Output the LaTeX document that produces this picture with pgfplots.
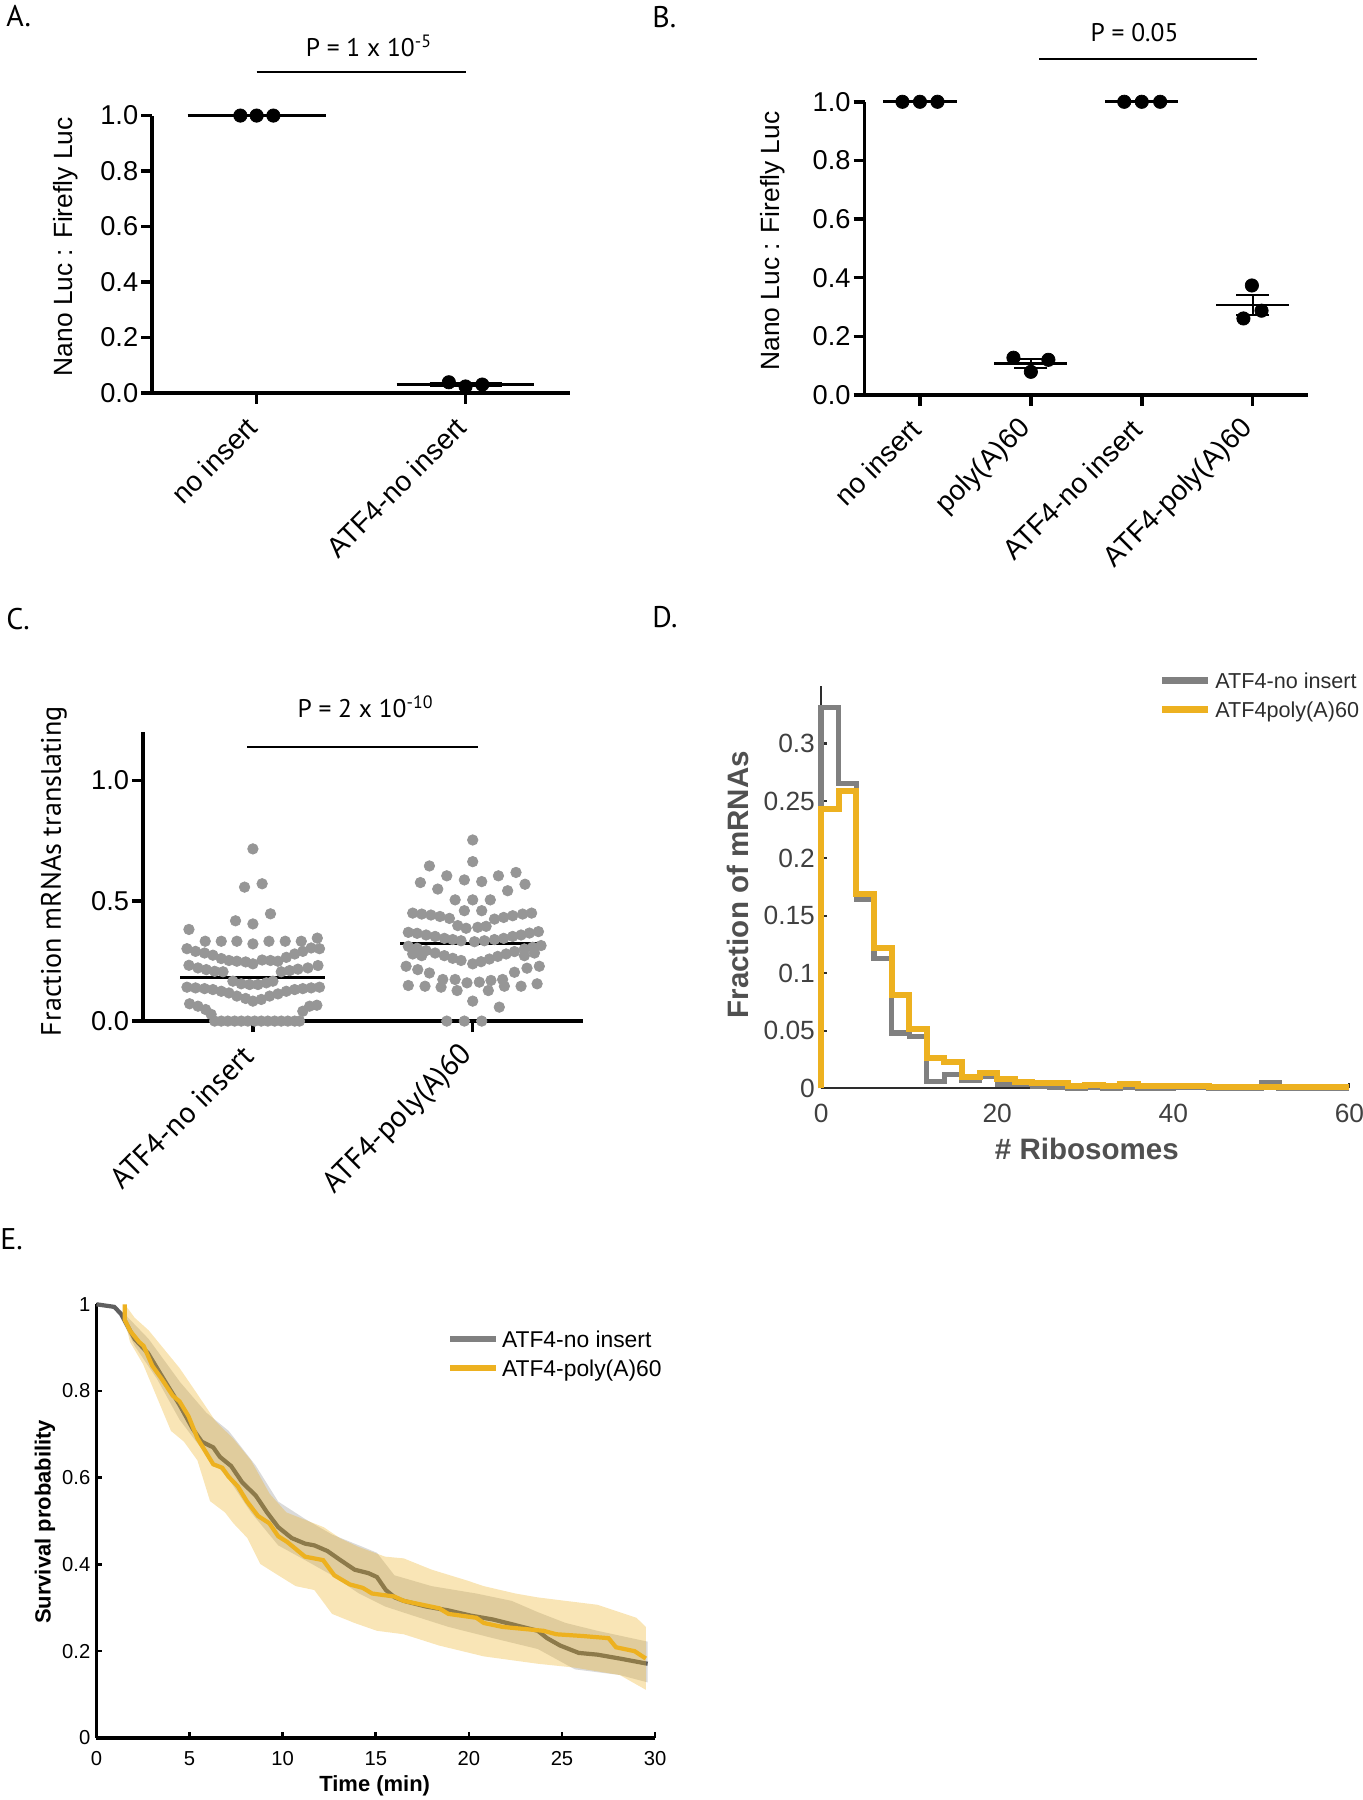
\documentclass[border=0pt]{standalone}
\usepackage{fontspec}
\setmainfont{Liberation Sans}
\newfontfamily\pt{PT Sans}
\usepackage{pgfplots}
\pgfplotsset{compat=1.18}

\definecolor{myyellow}{RGB}{237,177,32}
\definecolor{dotgray}{RGB}{150,150,150}
\definecolor{histgray}{RGB}{128,128,128}
\definecolor{axdark}{RGB}{45,45,45}
\definecolor{mgray}{RGB}{64,64,64}
\definecolor{lgray}{RGB}{80,80,80}
\definecolor{egray}{RGB}{95,95,95}
\definecolor{bandgray}{RGB}{150,150,150}

\pgfplotsset{
  prism/.style={
    scale only axis, anchor=south west, clip=false,
    axis x line*=bottom, axis y line*=left,
    axis line style={line width=2pt, black},
    tick style={line width=2pt, black},
    tick align=outside, major tick length=0.22cm,
    tick label style={font=\fontsize{15.5}{18}\selectfont},
    yticklabel style={inner sep=1.5pt},
    xticklabel style={yshift=-0.28cm, rotate=45, anchor=east, font=\fontsize{16}{19}\selectfont},
    label style={font=\fontsize{15}{18}\selectfont},
  },
  meanline/.style={black, line width=1.5pt, mark=none, forget plot},
}
\tikzset{pval/.style={font=\pt\fontsize{14.5}{17}\selectfont, anchor=base}}

\begin{document}
\begin{tikzpicture}
\path[use as bounding box] (0,0) rectangle (27.26,36);

% ---------- A ----------
\begin{axis}[prism, at={(3.044cm,28.14cm)}, width=8.356cm, height=5.548cm,
  xmin=0.5, xmax=2.5, ymin=0, ymax=1,
  xtick={1,2}, xticklabels={no insert, ATF4-no insert},
  ytick={0,0.2,0.4,0.6,0.8,1}, yticklabels={0.0,0.2,0.4,0.6,0.8,1.0},
  ylabel={Nano Luc : Firefly Luc},
  ylabel style={at={(axis description cs:-0.207,0.527)}, anchor=center}]
\addplot[meanline] coordinates {(0.67,1) (1.33,1)};
\addplot[meanline] coordinates {(1.67,0.031) (2.33,0.031)};
\addplot[draw=none, mark=none, forget plot, error bars/.cd, y dir=both, y explicit,
  error bar style={line width=1.3pt, black},
  error mark options={rotate=90, mark size=0.72cm, line width=1.3pt, black}]
  coordinates {(2,0.031) +- (0,0.004)};
\addplot[only marks, mark=*, mark size=3.8pt, black] coordinates {
  (0.922,1) (1,1) (1.080,1)
  (1.920,0.0386) (2,0.0234) (2.080,0.0303)};
\draw[line width=1.1pt] (axis cs:1,1.157) -- (axis cs:2,1.157);
\node[pval] at (axis cs:1.537,1.213) {P = 1 x 10\textsuperscript{-5}};
\end{axis}

% ---------- B ----------
\begin{axis}[prism, at={(17.29cm,28.10cm)}, width=8.872cm, height=5.864cm,
  xmin=0.5, xmax=4.5, ymin=0, ymax=1,
  xtick={1,2,3,4}, xticklabels={no insert, poly(A)60, ATF4-no insert, ATF4-poly(A)60},
  ytick={0,0.2,0.4,0.6,0.8,1}, yticklabels={0.0,0.2,0.4,0.6,0.8,1.0},
  ylabel={Nano Luc : Firefly Luc},
  ylabel style={at={(axis description cs:-0.207,0.525)}, anchor=center}]
\addplot[meanline] coordinates {(0.67,1) (1.33,1)};
\addplot[meanline] coordinates {(1.67,0.108) (2.33,0.108)};
\addplot[meanline] coordinates {(2.67,1) (3.33,1)};
\addplot[meanline] coordinates {(3.67,0.307) (4.33,0.307)};
\addplot[draw=none, mark=none, forget plot, error bars/.cd, y dir=both, y explicit,
  error bar style={line width=1.3pt, black},
  error mark options={rotate=90, mark size=0.33cm, line width=1.3pt, black}]
  coordinates {(2,0.108) +- (0,0.015) (4,0.307) +- (0,0.034)};
\addplot[only marks, mark=*, mark size=3.8pt, black] coordinates {
  (0.842,1) (1,1) (1.158,1)
  (1.843,0.127) (2.158,0.120) (2,0.079)
  (2.842,1) (3,1) (3.166,1)
  (3.993,0.3735) (4.080,0.2875) (3.917,0.261)};
\draw[line width=1.1pt] (axis cs:2.074,1.147) -- (axis cs:4.04,1.147);
\node[pval] at (axis cs:2.935,1.206) {P = 0.05};
\end{axis}

% ---------- C ----------
\begin{axis}[prism, at={(2.86cm,15.578cm)}, width=8.792cm, height=5.772cm,
  xmin=0.5, xmax=2.5, ymin=0, ymax=1.2,
  xtick={1,2}, xticklabels={ATF4-no insert, ATF4-poly(A)60},
  xticklabel style={font=\pt\fontsize{17}{20}\selectfont},
  ytick={0,0.5,1}, yticklabels={0.0,0.5,1.0},
  ylabel={Fraction mRNAs translating},
  ylabel style={at={(axis description cs:-0.203,0.520)}, anchor=center, font=\pt\fontsize{16}{19}\selectfont}]
\addplot[only marks, mark=*, mark size=3.0pt, dotgray] coordinates {
  (1.000,0.716) (0.962,0.557) (1.042,0.571) (1.080,0.446) (0.921,0.417) (1.000,0.404) (0.709,0.381)
  (0.783,0.332) (0.856,0.332) (0.927,0.332) (1.000,0.321) (1.073,0.332) (1.147,0.332) (1.220,0.332) (1.293,0.345)
  (0.700,0.301) (0.739,0.290) (0.780,0.283) (0.818,0.274) (0.856,0.260) (0.891,0.252) (0.927,0.249) (0.967,0.246)
  (1.000,0.238) (1.042,0.254) (1.080,0.252) (1.114,0.249) (1.152,0.265) (1.190,0.279) (1.227,0.290) (1.265,0.304) (1.303,0.301)
  (0.709,0.232) (0.750,0.221) (0.788,0.214) (0.826,0.207) (0.864,0.205) (1.129,0.205) (1.167,0.210) (1.205,0.216) (1.250,0.221) (1.296,0.231)
  (0.909,0.166) (0.947,0.155) (0.985,0.152) (1.023,0.152) (1.061,0.159) (1.091,0.166)
  (0.700,0.141) (0.739,0.138) (0.780,0.135) (0.818,0.131) (0.856,0.124) (0.891,0.117) (0.927,0.104) (0.967,0.094)
  (1.000,0.083) (1.038,0.090) (1.076,0.104) (1.114,0.113) (1.152,0.124) (1.190,0.131) (1.227,0.135) (1.265,0.138) (1.303,0.141)
  (0.712,0.072) (0.750,0.062) (0.785,0.048) (0.810,0.028) (1.227,0.041) (1.258,0.062) (1.291,0.066)
  (0.826,0) (0.856,0) (0.886,0) (0.917,0) (0.947,0) (0.977,0) (1.008,0) (1.038,0) (1.068,0) (1.099,0) (1.129,0) (1.159,0) (1.190,0) (1.212,0)
};
\addplot[only marks, mark=*, mark size=3.0pt, dotgray] coordinates {
  (2.000,0.753) (2.000,0.663) (1.803,0.645) (2.197,0.618) (1.882,0.604) (2.117,0.604) (1.762,0.576) (1.962,0.587)
  (2.041,0.580) (2.238,0.569) (1.841,0.549) (2.159,0.542) (1.920,0.504) (2.000,0.504) (2.080,0.504) (1.962,0.459) (2.041,0.459)
  (1.727,0.449) (1.768,0.445) (1.810,0.441) (1.851,0.435) (1.894,0.427) (1.932,0.397) (1.970,0.386) (2.023,0.390)
  (2.061,0.394) (2.099,0.424) (2.141,0.431) (2.182,0.438) (2.227,0.445) (2.268,0.449)
  (1.707,0.369) (1.747,0.365) (1.788,0.358) (1.829,0.352) (1.871,0.344) (1.909,0.339) (1.947,0.334) (2.008,0.330)
  (2.053,0.334) (2.099,0.339) (2.141,0.344) (2.182,0.352) (2.220,0.358) (2.258,0.366) (2.299,0.372)
  (1.707,0.311) (1.747,0.303) (1.788,0.293) (1.829,0.283) (1.871,0.272) (1.909,0.261) (1.947,0.252) (2.000,0.238)
  (2.038,0.247) (2.076,0.258) (2.114,0.269) (2.152,0.279) (2.190,0.289) (2.235,0.300) (2.273,0.307) (2.311,0.314)
  (1.727,0.279) (2.281,0.283) (1.768,0.272) (2.235,0.272)
  (1.697,0.228) (1.750,0.214) (1.803,0.200) (2.190,0.203) (2.247,0.220) (2.303,0.228)
  (1.864,0.173) (1.920,0.173) (1.974,0.159) (2.030,0.162) (2.083,0.169) (2.136,0.173)
  (1.707,0.148) (1.783,0.145) (1.856,0.141) (1.929,0.127) (2.071,0.127) (2.144,0.145) (2.220,0.145) (2.293,0.155)
  (2.000,0.083) (2.121,0.058)
  (1.882,0) (1.962,0) (2.041,0)
};
\addplot[meanline] coordinates {(0.67,0.180) (1.33,0.180)};
\addplot[meanline] coordinates {(1.67,0.323) (2.33,0.323)};
\draw[line width=1.1pt] (axis cs:0.975,1.139) -- (axis cs:2.023,1.139);
\node[pval] at (axis cs:1.512,1.262) {P = 2 x 10\textsuperscript{-10}};
\end{axis}

% ---------- D ----------
\begin{axis}[scale only axis, anchor=south west, at={(16.422cm,14.234cm)},
  width=10.566cm, height=8.046cm, clip=false,
  xmin=0, xmax=60, ymin=0, ymax=0.35,
  axis x line*=bottom, axis y line*=left,
  axis line style={line width=1.2pt, axdark},
  tick style={line width=1.2pt, axdark}, tick align=inside, major tick length=0.11cm,
  xtick={0,20,40,60}, xticklabels={0,20,40,60},
  ytick={0,0.05,0.1,0.15,0.2,0.25,0.3}, yticklabels={0,0.05,0.1,0.15,0.2,0.25,0.3},
  tick label style={font=\fontsize{15}{18}\selectfont, text=mgray},
  xticklabel style={yshift=-0.2cm},
  xlabel={\# Ribosomes}, ylabel={Fraction of mRNAs},
  label style={font=\bfseries\fontsize{16.8}{20}\selectfont, text=lgray},
  xlabel style={at={(axis description cs:0.503,-0.152)}, anchor=center},
  ylabel style={at={(axis description cs:-0.157,0.506)}, anchor=center}]
\addplot[const plot, histgray, line width=3pt, line join=miter, mark=none] coordinates {
  (0,0) (0,0.331) (2,0.265) (4,0.164) (6,0.113) (8,0.048) (10,0.045) (12,0.006) (14,0.012)
  (16,0.007) (18,0.010) (20,0.003) (22,0.003) (24,0.002) (26,0.001) (28,0) (30,0.001) (32,0)
  (34,0.001) (36,0) (38,0) (40,0.001) (42,0.001) (44,0) (46,0) (48,0) (50,0.005) (52,0)
  (54,0) (56,0) (58,0) (60,0)};
\addplot[const plot, myyellow, line width=3.4pt, line join=miter, mark=none] coordinates {
  (0,0) (0,0.243) (2,0.259) (4,0.169) (6,0.122) (8,0.081) (10,0.0515) (12,0.026) (14,0.0225)
  (16,0.0097) (18,0.013) (20,0.0077) (22,0.0058) (24,0.0045) (26,0.0048) (28,0.0023) (30,0.003)
  (32,0.002) (34,0.0035) (36,0.002) (38,0.0016) (40,0.002) (42,0.002) (44,0.001) (46,0.001)
  (48,0.001) (50,0.001) (52,0.001) (54,0.001) (56,0.001) (58,0.001) (60,0.001)};
\draw[histgray, line width=4pt] (axis description cs:0.646,1.0134) -- ++(0.908cm,0)
  node[anchor=base west, xshift=0.08cm, yshift=-0.158cm, inner sep=0, text=axdark,
       font=\fontsize{12.3}{15}\selectfont] {ATF4-no insert};
\draw[myyellow, line width=4pt] (axis description cs:0.646,0.9406) -- ++(0.908cm,0)
  node[anchor=base west, xshift=0.08cm, yshift=-0.158cm, inner sep=0, text=axdark,
       font=\fontsize{12.3}{15}\selectfont] {ATF4poly(A)60};
\end{axis}

% ---------- E ----------
\begin{axis}[scale only axis, anchor=south west, at={(1.93cm,1.242cm)},
  width=11.172cm, height=8.672cm, clip=false,
  xmin=0, xmax=30, ymin=0, ymax=1,
  axis x line*=bottom, axis y line*=left,
  axis line style={line width=2.2pt, black},
  tick style={line width=1.5pt, black}, tick align=inside, major tick length=0.12cm,
  xtick={0,5,10,15,20,25,30}, xticklabels={0,5,10,15,20,25,30},
  ytick={0,0.2,0.4,0.6,0.8,1}, yticklabels={0,0.2,0.4,0.6,0.8,1},
  tick label style={font=\fontsize{11.5}{14}\selectfont},
  xticklabel style={yshift=-0.14cm},
  xlabel={Time (min)}, ylabel={Survival probability},
  label style={font=\bfseries\fontsize{12.5}{15}\selectfont},
  xlabel style={at={(axis description cs:0.498,-0.111)}, anchor=center},
  ylabel style={at={(axis description cs:-0.0924,0.498)}, anchor=center}]
\addplot[draw=none, fill=bandgray, fill opacity=0.35, forget plot] coordinates {
  (0,1.0) (1.3,0.987) (2.8,0.92) (4.5,0.82) (5.9,0.75) (7.1,0.708) (8.55,0.628) (9.76,0.545)
  (11.2,0.505) (12.65,0.469) (14.1,0.444) (15.06,0.427) (16,0.375) (18,0.35) (20.4,0.333)
  (22.3,0.316) (23.7,0.29) (25.2,0.265) (26.9,0.247) (29.6,0.222)
  (29.6,0.128) (28.1,0.145) (25.7,0.158) (23.7,0.205) (21.3,0.23) (18.9,0.256) (17,0.282)
  (15.5,0.303) (14.1,0.333) (12.65,0.375) (11.2,0.41) (9.76,0.444) (8.3,0.52) (7.1,0.597)
  (5.66,0.666) (4.46,0.734) (3.25,0.828) (2.05,0.904) (1.3,0.968) (0.96,0.994)} -- cycle;
\addplot[egray, line width=2.4pt, mark=none] coordinates {
  (0,1.0) (0.96,0.994) (1.33,0.977) (2.05,0.92) (2.77,0.887) (3.6,0.828) (4.46,0.768) (5.18,0.712)
  (5.66,0.683) (6.27,0.67) (6.63,0.648) (7.23,0.627) (7.83,0.589) (8.55,0.559) (9.16,0.52)
  (9.76,0.486) (10.48,0.461) (11.2,0.448) (11.7,0.444) (12.4,0.431) (13.1,0.41) (13.86,0.388)
  (14.6,0.38) (15.06,0.371) (15.54,0.341) (16.02,0.324) (16.5,0.316) (17.7,0.303) (18.9,0.294)
  (20.1,0.282) (21.3,0.273) (22.5,0.26) (23.7,0.247) (24.2,0.23) (24.9,0.213) (25.9,0.196)
  (26.9,0.192) (28.1,0.183) (29.6,0.171)};
\addplot[draw=none, fill=myyellow, fill opacity=0.33, forget plot] coordinates {
  (1.52,1.0) (2.05,0.969) (2.8,0.94) (4.46,0.853) (5.4,0.794) (6.4,0.73) (7.35,0.69) (8.3,0.64)
  (9.3,0.563) (10.2,0.52) (11.2,0.503) (12.2,0.486) (13.1,0.46) (14.1,0.44) (15.5,0.418)
  (16.5,0.414) (18,0.388) (19.9,0.363) (20.8,0.35) (22.5,0.333) (23.7,0.324) (25.2,0.316)
  (26.9,0.307) (29,0.277) (29.5,0.256)
  (29.5,0.111) (28.1,0.145) (25.7,0.162) (23.7,0.171) (20.8,0.188) (18.4,0.213) (16.5,0.239)
  (15.06,0.247) (13.86,0.265) (12.65,0.286) (11.7,0.341) (10.7,0.35) (9.76,0.375) (8.8,0.401)
  (8.1,0.461) (7.35,0.495) (6.9,0.52) (6.1,0.546) (5.42,0.64) (4.7,0.683) (4,0.708)
  (3.25,0.785) (2.5,0.862) (1.8,0.913) (1.52,0.964)} -- cycle;
\addplot[myyellow, line width=2.4pt, mark=none] coordinates {
  (1.52,1.0) (1.52,0.964) (1.8,0.939) (2.29,0.913) (2.53,0.904) (3.0,0.858) (3.5,0.828) (4.1,0.789)
  (4.46,0.776) (4.94,0.742) (5.42,0.691) (5.9,0.657) (6.27,0.631) (6.75,0.623) (7.1,0.602)
  (7.59,0.58) (8.07,0.546) (8.67,0.512) (9.28,0.495) (9.76,0.465) (10.24,0.452) (11.2,0.418)
  (12.17,0.41) (12.77,0.375) (13.6,0.354) (14.3,0.346) (14.8,0.333) (16.0,0.326) (16.5,0.316)
  (18.4,0.299) (18.9,0.286) (20.4,0.277) (20.8,0.265) (21.8,0.256) (24.0,0.247) (24.7,0.239)
  (26.1,0.235) (27.5,0.23) (27.9,0.209) (28.9,0.2) (29.5,0.183)};
\draw[histgray, line width=3pt] (axis description cs:0.633,0.9197) -- ++(0.916cm,0)
  node[anchor=base west, xshift=0.07cm, yshift=-0.165cm, inner sep=0, text=black,
       font=\fontsize{13}{15}\selectfont] {ATF4-no insert};
\draw[myyellow, line width=3pt] (axis description cs:0.633,0.853) -- ++(0.916cm,0)
  node[anchor=base west, xshift=0.07cm, yshift=-0.165cm, inner sep=0, text=black,
       font=\fontsize{13}{15}\selectfont] {ATF4-poly(A)60};
\end{axis}

% panel letters
\node[anchor=north west, inner sep=0, font=\pt\fontsize{17}{20}\selectfont] at (0.12,35.9) {A.};
\node[anchor=north west, inner sep=0, font=\pt\fontsize{17}{20}\selectfont] at (13.04,35.88) {B.};
\node[anchor=north west, inner sep=0, font=\pt\fontsize{17}{20}\selectfont] at (0.12,23.84) {C.};
\node[anchor=north west, inner sep=0, font=\pt\fontsize{17}{20}\selectfont] at (13.04,23.88) {D.};
\node[anchor=north west, inner sep=0, font=\pt\fontsize{17}{20}\selectfont] at (0.0,11.44) {E.};
\end{tikzpicture}
\end{document}
